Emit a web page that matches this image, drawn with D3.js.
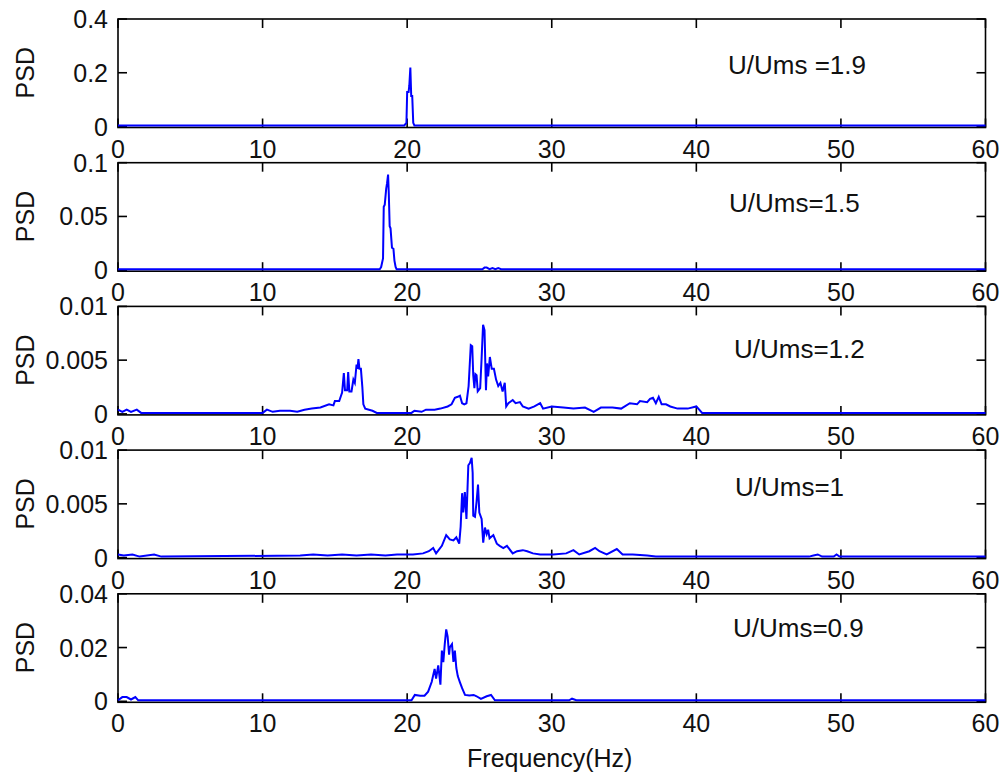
<!DOCTYPE html>
<html>
<head>
<meta charset="utf-8">
<script src="https://cdn.jsdelivr.net/npm/d3@7"></script>
<style>
  html, body { margin: 0; padding: 0; background: #fff; }
  svg { display: block; }
  text { font-family: "Liberation Sans", Arial, Helvetica, sans-serif; fill: #111; }
</style>
</head>
<body>
<svg id="chart" width="1002" height="782"></svg>
<script>
// Power spectral density of the response at five reduced velocities.

const freqTicks = [0, 10, 20, 30, 40, 50, 60];
const panelLabels = ["U/Ums =1.9", "U/Ums=1.5", "U/Ums=1.2", "U/Ums=1", "U/Ums=0.9"];
const yTicksList = [[0, 0.2, 0.4], [0, 0.05, 0.1], [0, 0.005, 0.01], [0, 0.005, 0.01], [0, 0.02, 0.04]];
const yTickLabels = [["0", "0.2", "0.4"], ["0", "0.05", "0.1"], ["0", "0.005", "0.01"], ["0", "0.005", "0.01"], ["0", "0.02", "0.04"]];

// U/Ums = 1.9
const freq19 = [0, 19.8, 19.95, 20.0, 20.1, 20.15, 20.22, 20.28, 20.35, 20.42, 20.5, 60];
const psd19  = [0, 0, 0.01, 0.125, 0.125, 0.15, 0.216, 0.11, 0.11, 0.01, 0, 0];

// U/Ums = 1.5
const freq15 = [0, 18.1, 18.2, 18.33, 18.38, 18.45, 18.55, 18.61, 18.68, 18.73, 18.79, 18.85, 18.95, 19.05, 19.12, 19.2, 19.27,
                25.2, 25.35, 25.5, 25.7, 25.9, 26.1, 26.3, 26.5, 60];
const psd15  = [0, 0, 0.002, 0.01, 0.058, 0.06, 0.075, 0.08, 0.088, 0.07, 0.04, 0.038, 0.02, 0.019, 0.008, 0.002, 0,
                0, 0.0015, 0.0015, 0, 0.001, 0, 0.001, 0, 0];

// U/Ums = 1.2
const freq12 = [0, 0.3, 0.6, 0.9, 1.3, 1.6, 10, 10.3, 10.7, 11.2, 11.9, 12.4, 12.9, 13.4, 14.0, 14.6, 14.9, 15.0, 15.3, 15.5,
                15.62, 15.7, 15.85, 15.92, 16.0, 16.15, 16.28, 16.38, 16.5, 16.56, 16.63, 16.7, 16.8, 16.9, 16.97, 17.1,
                17.6, 17.9, 20.3, 20.5, 21.0, 21.3, 21.9, 22.3, 22.8, 23.07, 23.3, 23.5, 23.65, 23.8, 23.95, 24.1, 24.25,
                24.4, 24.5, 24.57, 24.65, 24.72, 24.8, 24.88, 25.05, 25.15, 25.25, 25.35, 25.45, 25.52, 25.6, 25.72,
                25.85, 26.0, 26.15, 26.3, 26.45, 26.6, 26.75, 26.85, 27.0, 27.3, 27.5, 27.8, 28.0, 28.4, 28.8, 29.2,
                29.4, 30.0, 30.8, 31.5, 32.3, 32.9, 33.4, 34.2, 34.8, 35.4, 35.9, 36.1, 36.6, 36.8, 37.0, 37.2, 37.4,
                37.6, 37.9, 38.2, 38.7, 39.4, 40.0, 40.4, 60];
const psd12  = [0.0003, 0.0001, 0.0003, 0.0001, 0.0003, 0, 0, 0.0003, 0.0001, 0.0002, 0.0002, 0.0001, 0.0003, 0.0004, 0.0005,
                0.0008, 0.0007, 0.0011, 0.0011, 0.0019, 0.0037, 0.0021, 0.0021, 0.0038, 0.002, 0.002, 0.0031, 0.0028,
                0.0045, 0.0041, 0.0050, 0.0041, 0.0041, 0.0024, 0.0008, 0.0004, 0.0002, 0, 0, 0.0002, 0.0001, 0.0003,
                0.0003, 0.0004, 0.0006, 0.0008, 0.0014, 0.0015, 0.0016, 0.0009, 0.0008, 0.0009, 0.0025, 0.0063, 0.0062,
                0.0035, 0.0023, 0.0036, 0.0035, 0.0020, 0.0023, 0.0051, 0.0082, 0.0077, 0.0021, 0.0046, 0.0034, 0.0052,
                0.0041, 0.0041, 0.0031, 0.0025, 0.0028, 0.0020, 0.0028, 0.0006, 0.0009, 0.0012, 0.0009, 0.0010, 0.0006,
                0.0004, 0.0006, 0.0009, 0.0004, 0.0006, 0.0005, 0.0004, 0.0005, 0.0001, 0.0005, 0.0005, 0.0004, 0.0009,
                0.0008, 0.0011, 0.0010, 0.0013, 0.0014, 0.0009, 0.0015, 0.0008, 0.0008, 0.0006, 0.0004, 0.0004, 0.0006,
                0, 0];

// U/Ums = 1
const freq10 = [0, 0.4, 1.0, 1.5, 2.5, 3.0, 12.6, 13.5, 14.5, 15.5, 16.5, 17.5, 18.5, 19.3, 19.8, 20.4, 21.1, 21.5, 21.8, 22.0,
                22.4, 22.7, 22.95, 23.2, 23.4, 23.6, 23.7, 23.8, 23.88, 23.99, 24.1, 24.23, 24.34, 24.46, 24.53, 24.57,
                24.69, 24.8, 24.9, 24.99, 25.15, 25.26, 25.38, 25.5, 25.6, 25.7, 25.96, 26.2, 26.4, 26.65, 26.9, 27.3,
                27.6, 28.0, 28.3, 28.7, 29.2, 30.1, 31.0, 31.5, 31.9, 32.6, 33.0, 33.3, 33.8, 34.5, 34.9, 35.6, 36.6,
                37.2, 47.8, 48.1, 48.4, 48.7, 49.5, 49.7, 49.9, 60];
const psd10  = [0.0002, 0.0001, 0.0002, 0, 0.0002, 0, 0.0001, 0.0002, 0.0001, 0.0002, 0.0001, 0.0002, 0.0001, 0.0002, 0.0002,
                0.0002, 0.0003, 0.0005, 0.0008, 0.0003, 0.001, 0.002, 0.0016, 0.0015, 0.0018, 0.0012, 0.0028, 0.0059,
                0.0041, 0.006, 0.0035, 0.0085, 0.0087, 0.0092, 0.0078, 0.0038, 0.0037, 0.0051, 0.0067, 0.0041, 0.0035,
                0.0013, 0.0027, 0.0021, 0.0025, 0.0017, 0.002, 0.0012, 0.001, 0.0008, 0.001, 0.0003, 0.0005, 0.0006,
                0.0005, 0.0003, 0.0002, 0.0002, 0.0003, 0.0006, 0.0002, 0.0005, 0.0008, 0.0005, 0.0002, 0.0007, 0.0002,
                0.0002, 0.0001, 0, 0, 0.0001, 0.0002, 0, 0, 0.0002, 0, 0];

// U/Ums = 0.9
const freq09 = [0, 0.3, 0.6, 0.9, 1.2, 1.4, 20.3, 20.53, 20.9, 21.2, 21.45, 21.7, 21.8, 21.9, 22.0, 22.15, 22.3, 22.4, 22.5,
                22.6, 22.7, 22.8, 22.9, 22.95, 23.1, 23.2, 23.3, 23.4, 23.5, 23.65, 23.8, 24.0, 24.3, 24.6, 24.8, 25.1,
                25.5, 25.8, 26.07, 31.2, 31.4, 31.7, 60];
const psd09  = [0, 0.0012, 0.0012, 0.0003, 0.0012, 0, 0, 0.002, 0.0017, 0.0017, 0.0032, 0.0069, 0.0093, 0.0117, 0.0081, 0.013,
                0.0058, 0.0185, 0.0142, 0.0209, 0.0264, 0.0237, 0.017, 0.0197, 0.0209, 0.0143, 0.0185, 0.012, 0.009,
                0.0067, 0.0045, 0.002, 0.0018, 0.002, 0.0015, 0.0005, 0.0015, 0.002, 0, 0, 0.0006, 0, 0];

const seriesFreq = [freq19, freq15, freq12, freq10, freq09];
const seriesPsd  = [psd19, psd15, psd12, psd10, psd09];

// ---- layout ----
const plotLeft = 118, plotRight = 985.5;
const firstTop = 19, panelStep = 143.7, panelHeight = 107.5;
const labelX = [728, 729, 734, 735, 733];
const labelDy = [55, 49.5, 52, 46, 43.5];
const tickLen = 9;
const fontSize = 25;

const svg = d3.select("#chart");
const x = d3.scaleLinear().domain([0, 60]).range([plotLeft, plotRight]);

seriesFreq.forEach((freqs, i) => {
  const top = firstTop + i * panelStep;
  const bottom = top + panelHeight;
  const yTicks = yTicksList[i];
  const y = d3.scaleLinear().domain([0, yTicks[yTicks.length - 1]]).range([bottom, top]);
  const g = svg.append("g");

  // box
  g.append("rect")
    .attr("x", plotLeft).attr("y", top)
    .attr("width", plotRight - plotLeft).attr("height", bottom - top + 1)
    .attr("fill", "#fff").attr("stroke", "#000").attr("stroke-width", 1.6);

  // inward ticks on all four sides
  const tk = g.append("g").attr("stroke", "#000").attr("stroke-width", 1.6);
  freqTicks.forEach(f => {
    tk.append("line").attr("x1", x(f)).attr("x2", x(f)).attr("y1", bottom + 1).attr("y2", bottom + 1 - tickLen);
    tk.append("line").attr("x1", x(f)).attr("x2", x(f)).attr("y1", top).attr("y2", top + tickLen);
  });
  yTicks.forEach(v => {
    tk.append("line").attr("x1", plotLeft).attr("x2", plotLeft + tickLen).attr("y1", y(v)).attr("y2", y(v));
    tk.append("line").attr("x1", plotRight).attr("x2", plotRight - tickLen).attr("y1", y(v)).attr("y2", y(v));
  });

  // PSD trace
  const pts = freqs.map((f, k) => [f, seriesPsd[i][k]]);
  g.append("path")
    .datum(pts)
    .attr("fill", "none")
    .attr("stroke", "#0000ff")
    .attr("stroke-width", 2)
    .attr("stroke-linejoin", "miter")
    .attr("d", d3.line().x(d => x(d[0])).y(d => y(d[1]) - 1));

  // x tick labels
  g.append("g").selectAll("text").data(freqTicks).join("text")
    .attr("x", d => x(d)).attr("y", bottom + 31)
    .attr("text-anchor", "middle")
    .attr("font-size", fontSize)
    .text(d => d);

  // y tick labels
  g.append("g").selectAll("text").data(yTicks).join("text")
    .attr("x", plotLeft - 10).attr("y", d => y(d))
    .attr("text-anchor", "end")
    .attr("dominant-baseline", "central")
    .attr("font-size", fontSize)
    .text((d, k) => yTickLabels[i][k]);

  // y axis title
  g.append("text")
    .attr("transform", `translate(34,${(top + bottom) / 2}) rotate(-90)`)
    .attr("text-anchor", "middle")
    .attr("font-size", fontSize)
    .text("PSD");

  // velocity annotation
  g.append("text")
    .attr("x", labelX[i]).attr("y", top + labelDy[i])
    .attr("font-size", 26)
    .text(panelLabels[i]);
});

svg.append("text")
  .attr("x", (plotLeft + plotRight) / 2 - 2)
  .attr("y", 767)
  .attr("text-anchor", "middle")
  .attr("font-size", fontSize)
  .text("Frequency(Hz)");
</script>
</body>
</html>
